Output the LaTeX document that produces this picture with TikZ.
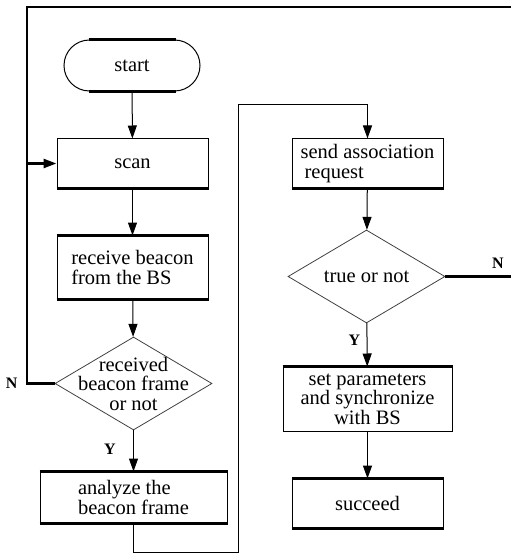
\documentclass[tikz,border=0pt]{standalone}
\usepackage{fontspec}
\setmainfont{Liberation Serif}
\usetikzlibrary{shapes.geometric,arrows.meta}
\begin{document}
\begin{tikzpicture}[x=1pt,y=-1pt,
  txt/.style={font=\fontsize{20.5}{19.5}\selectfont},
  box/.style={draw, line width=1pt, rectangle, inner sep=0pt, txt},
  dec/.style={draw=black!75, line width=0.8pt, diamond, inner sep=0pt,
              minimum width=157pt, minimum height=93pt},
  arr/.style={line width=1pt, -{Triangle[length=13pt,width=9pt]}},
  loop/.style={line width=2.5pt},
  edge/.style={line width=2.6pt},
  yn/.style={font=\bfseries\fontsize{16}{16}\selectfont}]
\useasboundingbox (0,0) rectangle (511,553);

% process steps
\node[box, rounded corners=25.5pt, minimum width=136pt, minimum height=51pt] (start) at (132,65.5) {start};
\node[box, minimum width=151pt, minimum height=49pt] (scan) at (132.5,163.5) {scan};
\node[box, align=left, minimum width=151pt, minimum height=63pt] (recv) at (132.5,267.5) {receive beacon\\from the BS};
\node[dec, label={[txt, align=center]center:received\\beacon frame\\or not}] (d1) at (133.5,383.5) {};
\node[box, align=left, minimum width=187pt, minimum height=51pt] (anal) at (133.5,497.5) {analyze the\\beacon frame};

\node[box, align=left, minimum width=151pt, minimum height=49pt] (send) at (367.5,163.5) {send association\\\hspace{4pt}request};
\node[dec, label={[txt]center:true or not}] (d2) at (366.5,276.5) {};
\node[box, align=center, minimum width=169pt, minimum height=64pt] (setp) at (367.5,399) {set parameters\\and synchronize\\with BS};
\node[box, minimum width=151pt, minimum height=49pt] (succ) at (367.5,503.5) {succeed};

% heavier shadow edges on the boxes
\draw[edge] ([xshift=25pt]start.north west) -- ([xshift=-25pt]start.north east);
\draw[edge] ([xshift=25pt]start.south west) -- ([xshift=-25pt]start.south east);
\draw[edge] (scan.south west) -- (scan.south east);
\draw[edge] (recv.north west) -- (recv.north east);
\draw[edge] (recv.south west) -- (recv.south east);
\draw[edge] (anal.north west) -- (anal.north east);
\draw[edge] (anal.south west) -- (anal.south east);
\draw[edge] (send.south west) -- (send.south east);
\draw[edge] (setp.north west) -- (setp.north east);
\draw[edge] (succ.north west) -- (succ.north east);
\draw[edge] (succ.south west) -- (succ.south east);

% routing points
\coordinate (nl) at (27,383.5);
\coordinate (tl) at (27,7);
\coordinate (tr) at (511,7);
\coordinate (sl) at (27,163.5);
\coordinate (nr) at (511,276.5);
\coordinate (b1) at (133.5,552);
\coordinate (b2) at (238.5,552);
\coordinate (b3) at (238.5,105);
\coordinate (b4) at (367.5,105);

% main flow
\draw[arr] (start) -- (scan);
\draw[arr] (scan) -- (recv);
\draw[arr] (recv) -- (d1);
\draw[arr] (d1) -- node[yn, pos=0.45, left=14pt] {Y} (anal);
\draw[line width=1pt] (anal.south) -- (b1) -- (b2) -- (b3) -- (b4);
\draw[arr] (b4) -- (send);
\draw[arr] (send) -- (d2);
\draw[arr] (d2) -- node[yn, pos=0.4, left=3pt] {Y} (setp);
\draw[arr] (setp) -- (succ);

% retry loops
\draw[loop] (d1.west) -- (nl) node[yn, left=5pt] {N} -- (tl) -- (tr);
\draw[loop, -{Triangle[length=13pt,width=9pt]}] (sl) -- (scan.west);
\draw[loop] (d2.east) -- (nr) node[yn, pos=0.8, above=3pt] {N};
\end{tikzpicture}
\end{document}
